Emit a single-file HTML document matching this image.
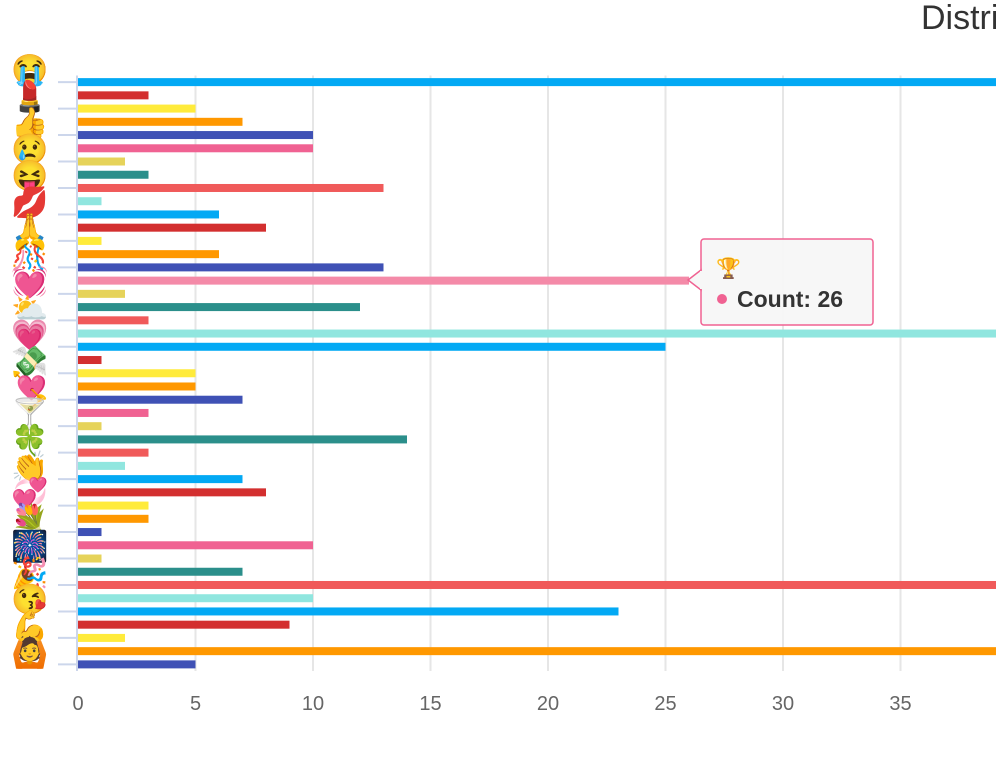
<!DOCTYPE html>
<html><head><meta charset="utf-8"><style>
body{margin:0;background:#fff;width:996px;height:758px;overflow:hidden;font-family:"Liberation Sans",sans-serif}
</style></head><body>
<svg id="chart" width="996" height="758" xmlns="http://www.w3.org/2000/svg">
<text x="921" y="29" font-size="34" fill="#333" font-family="Liberation Sans, sans-serif">Distribution of emoji usage</text>
<g id="grid"></g><g id="bars"></g><g id="yaxis"></g><g id="xaxis"></g>
<g>
<rect x="701" y="239" width="172" height="86" rx="3" fill="#f7f7f7" fill-opacity="0.95" stroke="#f06292" stroke-width="1.5"/>
<path d="M701 270 L688 280 L701 290 Z" fill="#f7f7f7" stroke="#f06292" stroke-width="1.5"/>
<rect x="700" y="271" width="3" height="18" fill="#f7f7f7"/>
<text x="716" y="275" font-size="20">🏆</text>
<circle cx="722" cy="299" r="5" fill="#f06292"/>
<text x="737" y="307" font-size="23" font-weight="bold" fill="#333">Count: 26</text>
</g>
</svg>
<script>
const categories=["😭","💄","👍","😢","😝","💋","🙏","🎊","💓","⛅","💗","💸","💘","🍸","🍀","👏","💞","💐","🎆","🎉","😘","💪","🙆"];
const values=[45,3,5,7,10,10,2,3,13,1,6,8,1,6,13,26,2,12,3,45,25,1,5,5,7,3,1,14,3,2,7,8,3,3,1,10,1,7,45,10,23,9,2,45,5];
const xTicks=[0,5,10,15,20,25,30,35,40];
const colors=["#03a9f4","#d32f2f","#ffeb3b","#ff9800","#3f51b5","#f06292","#e6d35a","#2b8f8b","#f05a5a","#90e6df"];
const NS="http://www.w3.org/2000/svg";
const x0=78,plotTop=75.5,plotBottom=671,band=(plotBottom-plotTop)/values.length;
const X=v=>x0+v*23.5;
function mk(t,a,p){const e=document.createElementNS(NS,t);for(const k in a)e.setAttribute(k,a[k]);p.appendChild(e);return e;}
const grid=document.getElementById('grid'),bars=document.getElementById('bars'),ya=document.getElementById('yaxis'),xa=document.getElementById('xaxis');
xTicks.forEach(t=>{
  if(t>0){const l=mk('line',{x1:X(t),x2:X(t),y1:plotTop,y2:plotBottom,stroke:'#e6e6e6','stroke-width':2},grid);
  
  }
  const tx=mk('text',{x:X(t),y:710,'font-size':20,fill:'#666','text-anchor':'middle'},xa);tx.textContent=t;
  
  
});
values.forEach((v,i)=>{
  const cy=plotTop+band*(i+0.5);
  const r=mk('rect',{x:x0,y:cy-4,width:Math.max(0,X(v)-x0),height:8,fill:i===15?'#f48aa8':colors[i%10]},bars);
  
  
});
const al=mk('line',{x1:77,x2:77,y1:plotTop,y2:plotBottom,stroke:'#ccd6eb','stroke-width':2},ya);


for(let i=0;i<values.length;i+=2){
  const cy=plotTop+band*(i+0.5);
  const tk=mk('line',{x1:58,x2:76,y1:cy,y2:cy,stroke:'#ccd6eb','stroke-width':2},ya);
  
  
}
categories.forEach((c,j)=>{
  const cy=plotTop+band*(2*j+0.5);
  const t=mk('text',{x:30,y:cy-2,'font-size':30,'text-anchor':'middle'},ya);t.textContent=c;
  
  
});
</script>
</body></html>
